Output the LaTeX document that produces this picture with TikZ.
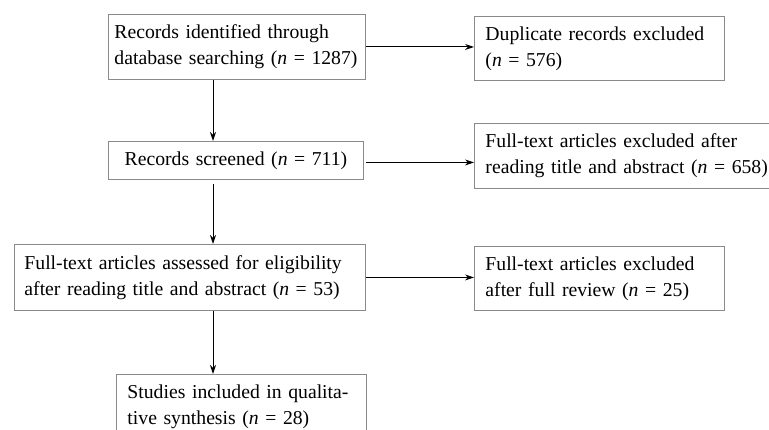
\documentclass[tikz,border=0pt]{standalone}
\usepackage{fontspec}
\setmainfont{Liberation Serif}
\usetikzlibrary{arrows.meta, positioning, calc}
\definecolor{edge}{HTML}{8a8a8a}

\begin{document}
\begin{tikzpicture}[x=1pt, y=-1pt,
	box/.style={draw=edge, line width=0.9pt, anchor=north west, align=left,
		inner xsep=11pt, inner ysep=0pt, font=\fontsize{19.7}{26}\selectfont},
	arr/.style={-{Stealth[length=9pt,width=6pt]}, line width=1pt}]
	\clip (0, 0) rectangle (769, 430);
	
	% main column
	\node[box, inner xsep=6pt, text width=245pt, minimum height=65pt] (rec) at (108, 14)
		{Records identified through\\ database searching (\textit{n}~=~1287)};
	\node[box, align=center, text width=233pt, minimum height=38pt] (scr) at (108, 141)
		{Records screened (\textit{n}~=~711)};
	\node[box, inner xsep=10pt, text width=331pt, minimum height=66pt] (ass) at (14, 244)
		{Full-text articles assessed for eligibility\\ after reading title and abstract (\textit{n}~=~53)};
	\node[box, text width=228pt, minimum height=64pt] (stu) at (116, 374)
		{Studies included in qualita-\\ tive synthesis (\textit{n}~=~28)};
	
	% excluded column
	\node[box, text width=228pt, minimum height=64pt] (dup) at (474, 16)
		{Duplicate records excluded\\ (\textit{n}~=~576)};
	\node[box, text width=290pt, minimum height=65pt] (exc) at (474, 123)
		{Full-text articles excluded after\\ reading title and abstract (\textit{n}~=~658)};
	\node[box, text width=228pt, minimum height=64pt] (rev) at (474, 246)
		{Full-text articles excluded\\ after full review (\textit{n}~=~25)};
	
	\coordinate (spine) at (213, 0);
	
	\draw[arr] (spine |- rec.south) -- (spine |- scr.north);
	\draw[arr] ($(spine |- scr.south) + (0, 4)$) -- (spine |- ass.north);
	\draw[arr] (spine |- ass.south) -- (spine |- stu.north);
	
	\draw[arr] (rec.east) -- (rec.east -| dup.west);
	\draw[arr] ($(scr.east) + (2, 2)$) -- ($(scr.east -| exc.west) + (0, 2)$);
	\draw[arr] (ass.east) -- (ass.east -| rev.west);
\end{tikzpicture}
\end{document}
